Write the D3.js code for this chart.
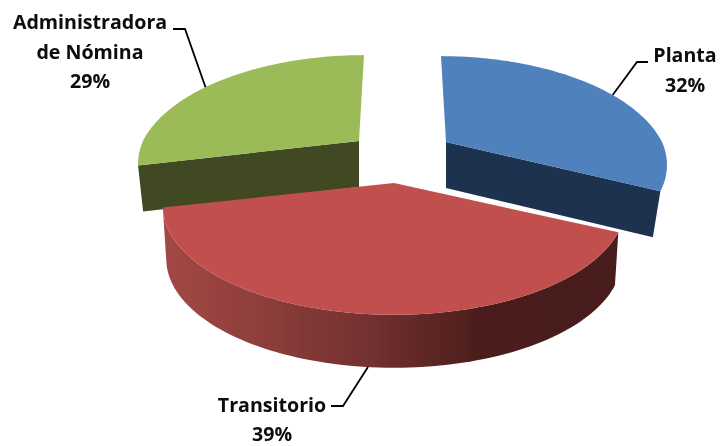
<!DOCTYPE html>
<html>
<head>
<meta charset="utf-8">
<script src="https://cdnjs.cloudflare.com/ajax/libs/d3/7.8.5/d3.min.js"></script>
<style>
html,body{margin:0;padding:0;background:#fff;}
svg{display:block;}
text{font-family:"Open Sans",Lato,sans-serif;font-weight:700;font-size:19.6px;fill:#0a0a0a;text-anchor:middle;}
</style>
</head>
<body>
<svg id="c" width="720" height="446"></svg>
<script>
// data
const categories = ["Planta", "Transitorio", "Administradora de Nómina"];
const values = [32.1, 39.3, 28.6];
const labelLines = [["Planta"], ["Transitorio"], ["Administradora", "de Nómina"]];

// layout: projection of each exploded slice
const persp = 0.211, depthScale = 104;
const layout = [
  {x0:446, y0:142, B:216, skew:-5, h:46, s:0.965, top:"#4f81bd", face:"#1f3350", nudge:2.3,
   labelX:685, labelY:[62], pctY:92, leader:[[648,62],[637,62]]},
  {x0:394, y0:183, B:226, skew:0,  h:53, s:0.985, top:"#c0504d", face:"#5a2321", nudge:-1,
   labelX:272, labelY:[412], pctY:441, leader:[[331,406],[343,406]]},
  {x0:359, y0:141, B:216, skew:5,  h:46, s:0.977, top:"#9bbb59", face:"#3f4a23", nudge:-3,
   labelX:90, labelY:[29, 59], pctY:88, leader:[[173,29],[185,29]]}
];

const svg = d3.select("#c");
const defs = svg.append("defs");
const grad = defs.append("linearGradient").attr("id","redWall")
  .attr("gradientUnits","userSpaceOnUse").attr("x1",162).attr("x2",620).attr("y1",0).attr("y2",0);
[[0,"#a34845"],[0.2,"#8f3f3c"],[0.45,"#733130"],[0.7,"#4b1d1b"],[1,"#4a1c1b"]].forEach(d=>
  grad.append("stop").attr("offset",d[0]).attr("stop-color",d[1]));
defs.append("filter").attr("id","soft").attr("filterUnits","userSpaceOnUse")
  .attr("x",0).attr("y",0).attr("width",720).attr("height",446)
  .append("feGaussianBlur").attr("stdDeviation",0.45);

const arcs = d3.pie().sort(null).value(d=>d)(values);
const line = d3.line();

function rimTop(L,a){
  const u=Math.sin(a), v=Math.cos(a), w=1+persp*v;
  const y=L.y0-depthScale*v/w;
  return [L.x0+L.B*u/w+L.skew*Math.max(0,L.y0-y)/86, y];
}
function rimBottom(L,a){
  const p=rimTop(L,a);
  return [L.x0+(p[0]-L.x0)*L.s, p[1]+L.h];
}
function samples(a0,a1){
  const n=90;
  return d3.range(n+1).map(i=>a0+(a1-a0)*i/n);
}

const g = svg.append("g").attr("filter","url(#soft)");
// back slices first, front slice last
[0,2,1].forEach(i=>{
  const L=layout[i], A=arcs[i], apex=[L.x0,L.y0], apexB=[L.x0,L.y0+L.h];
  const as=samples(A.startAngle,A.endAngle);
  if(i===0){
    const e=A.endAngle;
    g.append("path").attr("fill",L.face).attr("d",line([apex,rimTop(L,e),rimBottom(L,e),apexB])+"Z");
  }
  if(i===2){
    const s=A.startAngle;
    g.append("path").attr("fill",L.face).attr("d",line([apex,rimTop(L,s),rimBottom(L,s),apexB])+"Z");
  }
  if(i===1){
    const wall=as.map(a=>rimTop(L,a)).concat(as.slice().reverse().map(a=>rimBottom(L,a)));
    g.append("path").attr("fill","url(#redWall)").attr("d",line(wall)+"Z");
  }
  g.append("path").attr("fill",L.top).attr("d",line([apex].concat(as.map(a=>rimTop(L,a))))+"Z");
});

// leaders and labels
const labels = svg.append("g").attr("filter","url(#soft)");
arcs.forEach((A,i)=>{
  const L=layout[i], mid=(A.startAngle+A.endAngle)/2+L.nudge*Math.PI/180;
  const end = i===1 ? rimBottom(L,mid) : rimTop(L,mid);
  labels.append("path").attr("fill","none").attr("stroke","#000").attr("stroke-width",1.8)
    .attr("d",line(L.leader.concat([end])));
  labelLines[i].forEach((t,j)=>labels.append("text").attr("x",L.labelX).attr("y",L.labelY[j]).text(t));
  labels.append("text").attr("x",L.labelX).attr("y",L.pctY).text(Math.round(values[i])+"%");
});
</script>
</body>
</html>
